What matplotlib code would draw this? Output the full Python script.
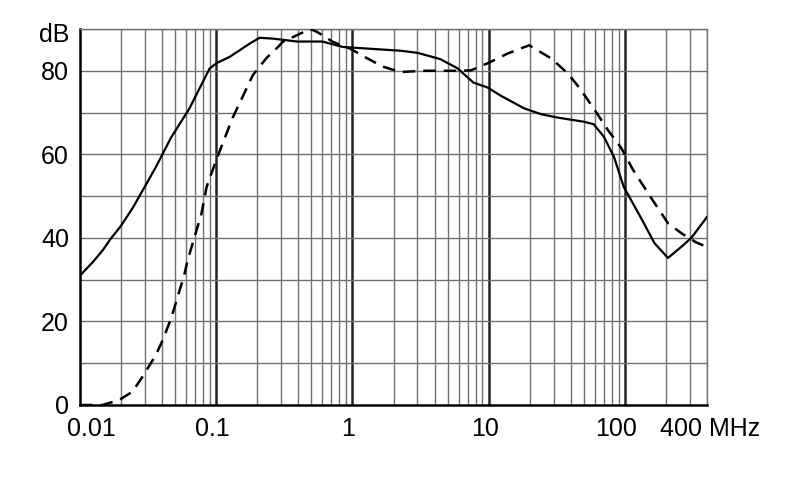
import numpy as np
import matplotlib
matplotlib.use("Agg")
import matplotlib.pyplot as plt
import matplotlib.transforms as mtransforms

# frequency response (MHz, dB)
solid_f = [0.01, 0.0125, 0.0148, 0.0168, 0.0199, 0.0245, 0.0296, 0.0361, 0.0466,
           0.0636, 0.0892, 0.1, 0.125, 0.15, 0.176, 0.208, 0.26, 0.33, 0.39,
           0.6, 0.85, 1.3, 2.25, 3.0, 4.4, 5.9, 7.7, 9.8, 12.3, 18.2, 24.3,
           32, 50, 59, 70, 83, 98, 130, 165, 207, 260, 307, 400]
solid_db = [31, 34.3, 37.2, 39.8, 42.8, 47.3, 52, 57, 64,
            71, 80.5, 81.8, 83.3, 85, 86.5, 87.9, 87.7, 87.3, 87,
            87, 85.7, 85.3, 84.8, 84.3, 82.8, 80.6, 77.2, 76, 74, 71, 69.6,
            68.8, 67.8, 67.2, 64.2, 59.4, 52.2, 45, 38.7, 35.2, 37.9, 40, 45]

dash_f = [0.01, 0.0146, 0.0194, 0.0243, 0.0288, 0.0361, 0.0404, 0.0466, 0.0521,
          0.0582, 0.0617, 0.069, 0.078, 0.085, 0.0972, 0.111, 0.133, 0.186, 0.233,
          0.284, 0.307, 0.39, 0.49, 0.55, 0.72, 0.96, 1.28, 1.67, 2.25, 3.3, 5.9,
          7.4, 10.3, 13.7, 19.8, 28.6, 38, 46.6, 60, 75, 94, 115, 154, 207, 260,
          330, 400]
dash_db = [0, 0, 1.2, 3.2, 6.8, 12, 15.5, 20.7, 25.9,
           31.1, 34.7, 40, 45.9, 52.2, 57.5, 62.5, 69, 79, 83,
           85.7, 86.9, 88.5, 90, 89.3, 86.9, 85.3, 83, 81, 79.7, 80, 80,
           80.1, 82.1, 84.1, 86.1, 83, 79.4, 75.8, 70.6, 65.8, 61.5, 56.2, 49.8, 43.5, 41.1,
           39, 37.8]

x_ticks = [0.01, 0.1, 1, 10, 100, 400]
x_labels = ["0.01", "0.1", "1", "10", "100", "400 MHz"]
y_ticks = [0, 10, 20, 30, 40, 50, 60, 70, 80, 90]
y_labels = ["0", "", "20", "", "40", "", "60", "", "80", "dB"]

plt.rcParams['font.family'] = ['Liberation Sans', 'DejaVu Sans']

fig = plt.figure(figsize=(7.9, 4.99), dpi=100)
ax = fig.add_axes([80 / 790, 94 / 499, 627 / 790, 376 / 499])

# grid: grey minor lines, dark decade lines
for f in [m * 10.0 ** e for e in range(-2, 3) for m in range(2, 10)]:
    if 0.01 < f <= 400:
        ax.axvline(f, color="#707070", lw=1.0, zorder=1)
for f in [0.1, 1, 10, 100]:
    ax.axvline(f, color="#222222", lw=1.8, zorder=1)
for y in y_ticks[1:]:
    ax.axhline(y, color="#707070", lw=1.0, zorder=1)

ax.plot(solid_f, solid_db, color="black", lw=1.6, zorder=3)
ax.plot(dash_f, dash_db, color="black", lw=1.8, dashes=(5, 3.2), zorder=3)

ax.set_xscale("log")
ax.set_xlim(0.01, 400)
ax.set_ylim(0, 90)

ax.minorticks_off()
ax.set_xticks(x_ticks)
ax.set_xticklabels(x_labels)
ax.set_yticks(y_ticks)
ax.set_yticklabels(y_labels)
ax.tick_params(length=0, labelsize=18, colors="black")
ax.tick_params(axis="y", pad=8)
ax.tick_params(axis="x", pad=9)

# nudge labels as in the original
shifts = {"0.01": 11, "0.1": -4, "1": -4, "10": -4, "100": -9, "400 MHz": 3}
for lab in ax.get_xticklabels():
    dx = shifts.get(lab.get_text(), 0)
    lab.set_transform(lab.get_transform() + mtransforms.ScaledTranslation(dx / 100, 0, fig.dpi_scale_trans))
for lab in ax.get_yticklabels():
    if lab.get_text() == "dB":
        lab.set_transform(lab.get_transform() + mtransforms.ScaledTranslation(0, -3 / 100, fig.dpi_scale_trans))

for side in ["top", "right"]:
    ax.spines[side].set_color("#707070")
    ax.spines[side].set_linewidth(1.0)
for side in ["left", "bottom"]:
    ax.spines[side].set_color("black")
    ax.spines[side].set_linewidth(1.8)

fig.savefig("out.png", dpi=100)
